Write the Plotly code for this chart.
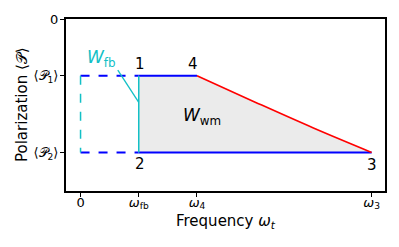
import plotly.graph_objects as go

# Data
omega_fb = 1.0
omega_4 = 2.0
omega_3 = 5.0
P1 = -1.0
P2 = -2.35

curve_omega = [2.0, 3.0, 4.0, 5.0]
curve_P = [-1.0, -1.465, -1.92, -2.35]

pointer_x = [0.64, 1.0]
pointer_y = [-0.90, -1.47]

xtick_vals = [0, omega_fb, omega_4, omega_3]
xtick_text = ["0", "<i>ω</i><sub>fb</sub>", "<i>ω</i><sub>4</sub>", "<i>ω</i><sub>3</sub>"]
ytick_vals = [0, P1, P2]
ytick_text = ["0", "⟨𝒫<sub>1</sub>⟩", "⟨𝒫<sub>2</sub>⟩"]

x_title = "Frequency <i>ω<sub>t</sub></i>"
y_title = "Polarization ⟨𝒫⟩"

FONT = "DejaVu Sans"
BLUE = "#0000ff"
CYAN = "#12c0c6"
RED = "#ff0000"

fig = go.Figure()

# gray filled work region
fig.add_trace(go.Scatter(
    x=[omega_fb, omega_4] + curve_omega[1:] + [omega_fb],
    y=[P1, P1] + curve_P[1:] + [P2],
    fill="toself", fillcolor="#ebebeb", mode="none", hoverinfo="skip"))

# dashed cycle parts
fig.add_trace(go.Scatter(x=[0, omega_fb], y=[P1, P1], mode="lines",
                         line=dict(color=BLUE, width=2, dash="dash")))
fig.add_trace(go.Scatter(x=[0, omega_fb], y=[P2, P2], mode="lines",
                         line=dict(color=BLUE, width=2, dash="dash")))
fig.add_trace(go.Scatter(x=[0, 0], y=[P1, P2], mode="lines",
                         line=dict(color=CYAN, width=1.5, dash="dash")))

# solid parts
fig.add_trace(go.Scatter(x=[omega_fb, omega_4], y=[P1, P1], mode="lines",
                         line=dict(color=BLUE, width=2)))
fig.add_trace(go.Scatter(x=[omega_fb, omega_3], y=[P2, P2], mode="lines",
                         line=dict(color=BLUE, width=2)))
fig.add_trace(go.Scatter(x=[omega_fb, omega_fb], y=[P1, P2], mode="lines",
                         line=dict(color=CYAN, width=1.5)))
fig.add_trace(go.Scatter(x=curve_omega, y=curve_P, mode="lines",
                         line=dict(color=RED, width=1.6, shape="spline")))
fig.add_trace(go.Scatter(x=pointer_x, y=pointer_y, mode="lines",
                         line=dict(color=CYAN, width=1.3)))

ann = [
    dict(x=omega_fb, y=P1, text="1", yshift=12, xshift=1),
    dict(x=omega_4, y=P1, text="4", yshift=12, xshift=-4),
    dict(x=omega_fb, y=P2, text="2", yshift=-12, xshift=1),
    dict(x=omega_3, y=P2, text="3", yshift=-13, xshift=0),
    dict(x=2.08, y=-1.72, text="<i>W</i><sub>wm</sub>", font=dict(size=17, color="black", family=FONT)),
    dict(x=0.36, y=-0.70, text="<i>W</i><sub>fb</sub>", font=dict(size=17, color=CYAN, family=FONT)),
]
for a in ann:
    a.setdefault("font", dict(size=15, color="black", family=FONT))
    a.update(showarrow=False, xref="x", yref="y")
ann += [
    dict(xref="paper", yref="paper", x=0.5, y=0, yshift=-30, text=x_title,
         xanchor="center", yanchor="middle",
         showarrow=False, font=dict(size=15, color="black", family=FONT)),
    dict(xref="paper", yref="paper", x=0, y=0.5, xshift=-44, text=y_title, textangle=-90,
         xanchor="center", yanchor="middle",
         showarrow=False, font=dict(size=15, color="black", family=FONT)),
]
fig.update_layout(annotations=ann)

# page body has an 8px margin, so the figure is offset by 8px
fig.update_layout(
    width=391, height=239,
    margin=dict(l=58, r=14, t=11, b=56),
    paper_bgcolor="white", plot_bgcolor="white",
    showlegend=False,
    font=dict(family=FONT, color="black", size=12),
)
fig.update_xaxes(
    range=[-0.25, 5.23], tickvals=xtick_vals, ticktext=xtick_text,
    ticks="outside", ticklen=4, tickwidth=1.3, tickcolor="black",
    showline=True, linewidth=2, linecolor="black", mirror=True,
    showgrid=False, zeroline=False, automargin=False,
    tickfont=dict(size=13, family=FONT), ticklabelstandoff=-6,
)
fig.update_yaxes(
    range=[-3.03, 0], tickvals=ytick_vals, ticktext=ytick_text,
    ticks="outside", ticklen=4, tickwidth=1.3, tickcolor="black",
    showline=True, linewidth=2, linecolor="black", mirror=True,
    showgrid=False, zeroline=False, automargin=False,
    tickfont=dict(size=13, family=FONT), ticklabelstandoff=-1,
)

fig.write_html("out.html")
